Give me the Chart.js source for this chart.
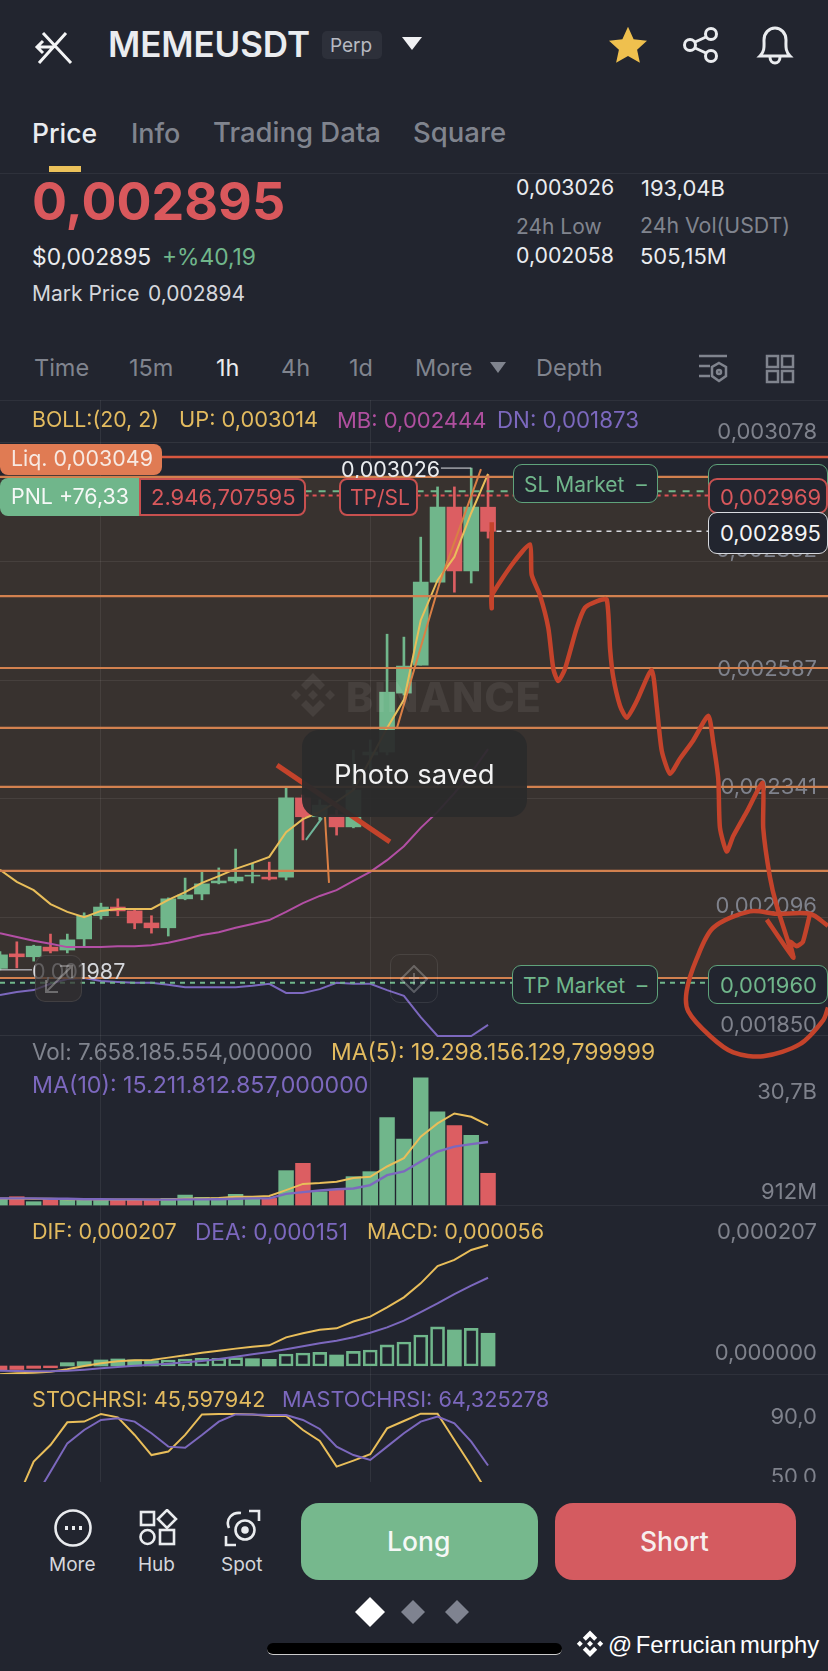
<!DOCTYPE html>
<html><head><meta charset="utf-8">
<script src="https://cdn.jsdelivr.net/npm/chart.js@4"></script>
<style>
html,body{margin:0;padding:0;background:#22252F;width:828px;height:1671px;overflow:hidden;font-family:Inter,"Open Sans",sans-serif;}
.c{position:absolute;left:0;display:block}
.t{position:absolute;white-space:nowrap;transform:translateY(-50%);line-height:1;}
.b{position:absolute;box-sizing:border-box;}
.g{color:#80848E}.w{color:#EAECEF}.y{color:#E3BB5F}.p{color:#7C68BE}.k{color:#B04F9F}.gr{color:#70B68B}.r{color:#D9585C}
.l{position:absolute;left:0;width:828px;height:1px;background:#2E313B}
svg{position:absolute}
</style></head><body>
<div class="l" style="top:173px"></div>
<div class="l" style="top:400px"></div>
<div class="l" style="top:1205px"></div>
<div class="l" style="top:1374px"></div>

<div id="pw" style="position:absolute;left:0;top:400px;width:828px;height:662px"><canvas id="price" class="c" style="top:0"></canvas></div>
<div id="vw" style="position:absolute;left:0;top:1058px;width:828px;height:148px"><canvas id="vol" class="c" style="top:0"></canvas></div>
<div id="mw" style="position:absolute;left:0;top:1206px;width:828px;height:168px"><canvas id="macd" class="c" style="top:0"></canvas></div>
<div id="sw" style="position:absolute;left:0;top:1374px;width:828px;height:108px;overflow:hidden"><canvas id="stoch" class="c" style="top:0"></canvas></div>

<!-- header -->
<svg style="left:34px;top:28px" width="42" height="38" viewBox="0 0 42 38" fill="none" stroke="#F4F5F6" stroke-width="3"><path d="M9 5L37 35M32 5L5 35M3 19H19M9 13L3 19L9 25"/></svg>
<div class="t" style="left:108px;top:44px;font-size:35px;font-weight:600;color:#EAECEF;letter-spacing:-.1px">MEMEUSDT</div>
<div class="b" style="left:322px;top:31px;width:60px;height:28px;background:#2D303A;border-radius:5px"></div>
<div class="t g" style="left:330px;top:45px;font-size:19px;color:#B7BAC2">Perp</div>
<svg style="left:402px;top:37px" width="20" height="14"><path d="M0 0H20L10 13Z" fill="#F0F1F3"/></svg>
<svg style="left:608px;top:26px" width="40" height="38" viewBox="0 0 24 23"><path d="M12 0.5L15.4 8L23.5 8.9L17.5 14.3L19.2 22.3L12 18.2L4.8 22.3L6.5 14.3L0.5 8.9L8.6 8Z" fill="#EFC04E"/></svg>
<svg style="left:682px;top:26px" width="40" height="38" viewBox="0 0 40 38" fill="none" stroke="#EAECEF" stroke-width="3"><circle cx="29" cy="8" r="5.5"/><circle cx="29" cy="30" r="5.5"/><circle cx="8" cy="19" r="5.5"/><path d="M13 16L24 11M13 22L24 27"/></svg>
<svg style="left:756px;top:24px" width="38" height="42" viewBox="0 0 38 42" fill="none" stroke="#EAECEF" stroke-width="3"><path d="M4 32C9 27 8 22 8 16C8 9 13 4 19 4S30 9 30 16C30 22 29 27 34 32Z"/><path d="M14 33C14 41 24 41 24 33"/></svg>

<div class="t w" style="left:32px;top:133px;font-size:26.5px;font-weight:500">Price</div>
<div class="t g" style="left:131px;top:133px;font-size:27px;font-weight:500">Info</div>
<div class="t g" style="left:213px;top:133px;font-size:27.5px;font-weight:500">Trading Data</div>
<div class="t g" style="left:413px;top:133px;font-size:27.5px;font-weight:500">Square</div>
<div class="b" style="left:49px;top:166px;width:32px;height:6px;background:#EBC15A"></div>

<div class="t r" style="left:32px;top:202px;font-size:52px;font-weight:700">0,002895</div>
<div class="t w" style="left:32px;top:257px;font-size:22.8px">$0,002895</div>
<div class="t gr" style="left:162px;top:257px;font-size:22.8px">+%40,19</div>
<div class="t w" style="left:32px;top:293px;font-size:21px;color:#D5D7DC">Mark Price</div>
<div class="t w" style="left:148px;top:293px;font-size:21px;color:#D5D7DC">0,002894</div>
<div class="t w" style="left:516px;top:188px;font-size:21.3px">0,003026</div>
<div class="t w" style="left:641px;top:188px;font-size:22px">193,04B</div>
<div class="t g" style="left:516px;top:226px;font-size:21px">24h Low</div>
<div class="t g" style="left:640px;top:226px;font-size:21.3px">24h Vol(USDT)</div>
<div class="t w" style="left:516px;top:256px;font-size:21.3px">0,002058</div>
<div class="t w" style="left:640px;top:256px;font-size:22px">505,15M</div>

<div class="t g" style="left:34px;top:368px;font-size:23.5px">Time</div>
<div class="t g" style="left:129px;top:368px;font-size:23.5px">15m</div>
<div class="t w" style="left:216px;top:368px;font-size:23.5px">1h</div>
<div class="t g" style="left:281px;top:368px;font-size:23.5px">4h</div>
<div class="t g" style="left:349px;top:368px;font-size:23.5px">1d</div>
<div class="t g" style="left:415px;top:368px;font-size:23.5px">More</div>
<svg style="left:490px;top:362px" width="16" height="12"><path d="M0 0H16L8 11Z" fill="#80848E"/></svg>
<div class="t g" style="left:536px;top:368px;font-size:23.5px">Depth</div>
<svg style="left:698px;top:353px" width="32" height="32" viewBox="0 0 32 32" fill="none" stroke="#80848E" stroke-width="2.5"><path d="M1 3H29M1 13H12M1 23H12"/><path d="M21 10L28 14V23L21 28L14 23V14Z"/><circle cx="21" cy="19" r="2"/></svg>
<svg style="left:765px;top:354px" width="30" height="30" viewBox="0 0 30 30" fill="none" stroke="#80848E" stroke-width="2.5"><rect x="2" y="2" width="11" height="11"/><rect x="17" y="2" width="11" height="11"/><rect x="2" y="17" width="11" height="11"/><rect x="17" y="17" width="11" height="11"/></svg>

<!-- indicator legends -->
<div class="t y" style="left:32px;top:420px;font-size:21.3px">BOLL:(20, 2)</div>
<div class="t y" style="left:179px;top:420px;font-size:21.8px">UP: 0,003014</div>
<div class="t k" style="left:337px;top:420px;font-size:22px">MB: 0,002444</div>
<div class="t p" style="left:497px;top:420px;font-size:22.3px">DN: 0,001873</div>
<div class="t g" style="left:32px;top:1052px;font-size:22.4px">Vol: 7.658.185.554,000000</div>
<div class="t y" style="left:331px;top:1052px;font-size:22.9px">MA(5): 19.298.156.129,799999</div>
<div class="t p" style="left:32px;top:1086px;font-size:23.2px">MA(10): 15.211.812.857,000000</div>
<div class="t y" style="left:32px;top:1232px;font-size:21.6px">DIF: 0,000207</div>
<div class="t p" style="left:195px;top:1232px;font-size:22.6px">DEA: 0,000151</div>
<div class="t y" style="left:367px;top:1232px;font-size:21.6px">MACD: 0,000056</div>
<div class="t y" style="left:32px;top:1400px;font-size:21.7px">STOCHRSI: 45,597942</div>
<div class="t p" style="left:282px;top:1400px;font-size:21.7px">MASTOCHRSI: 64,325278</div>

<!-- watermark -->
<svg style="left:288px;top:672px" width="50" height="50" viewBox="0 0 50 50" fill="rgba(255,255,255,.07)"><path d="M25 1L37 13L32 18L25 11L18 18L13 13ZM8 18L13 23L8 28L3 23ZM42 18L47 23L42 28L37 23ZM25 18L30 23L25 28L20 23ZM13 33L18 28L25 35L32 28L37 33L25 45Z"/></svg>
<div class="t" style="left:346px;top:697px;font-size:41px;font-weight:800;color:rgba(255,255,255,.07);letter-spacing:1px">BINANCE</div>

<!-- order tags -->
<div class="t w" style="left:341px;top:470px;font-size:21.5px">0,003026</div>
<div class="t w" style="left:32px;top:972px;font-size:21.5px;color:#D5D7DC">0,001987</div>
<div class="b" style="left:0;top:444px;width:162px;height:31px;background:#E07B53;border-radius:0 8px 8px 8px"></div>
<div class="t" style="left:11px;top:459px;font-size:21.4px;color:#F7E9E2">Liq. 0,003049</div>
<div class="b" style="left:0;top:478px;width:140px;height:38px;background:#70B68B;border-radius:8px 0 0 8px"></div>
<div class="t" style="left:11px;top:497px;font-size:21.4px;color:#F5F8F6">PNL +76,33</div>
<div class="b" style="left:139px;top:478px;width:167px;height:38px;background:#22252F;border:2px solid #C7504F;border-radius:0 8px 8px 0"></div>
<div class="t r" style="left:151px;top:497px;font-size:22px">2.946,707595</div>
<div class="b" style="left:339px;top:478px;width:79px;height:38px;background:#22252F;border:2px solid #C7504F;border-radius:8px"></div>
<div class="t r" style="left:350px;top:497px;font-size:21px">TP/SL</div>
<div class="b" style="left:513px;top:464px;width:145px;height:39px;background:#22252F;border:1.5px solid #5FA37B;border-radius:9px"></div>
<div class="t gr" style="left:524px;top:484px;font-size:21px">SL Market&nbsp;&nbsp;–</div>
<div class="b" style="left:512px;top:965px;width:146px;height:39px;background:#22252F;border:1.5px solid #5FA37B;border-radius:9px"></div>
<div class="t gr" style="left:523px;top:985px;font-size:21px">TP Market&nbsp;&nbsp;–</div>
<div class="b" style="left:708px;top:464px;width:120px;height:30px;background:#22252F;border:1.5px solid #5FA37B;border-radius:9px"></div>
<div class="b" style="left:708px;top:478px;width:120px;height:36px;background:#22252F;border:2px solid #C7504F;border-radius:9px"></div>
<div class="t r" style="left:720px;top:497px;font-size:22px">0,002969</div>
<div class="b" style="left:708px;top:512px;width:120px;height:42px;background:#22252F;border:1.5px solid #D8DADF;border-radius:9px"></div>
<div class="t" style="left:720px;top:533px;font-size:22px;color:#F4F5F6">0,002895</div>
<div class="b" style="left:708px;top:965px;width:120px;height:39px;background:#22252F;border:1.5px solid #5FA37B;border-radius:9px"></div>
<div class="t gr" style="left:720px;top:985px;font-size:22px">0,001960</div>

<!-- chart buttons -->
<div class="b" style="left:35px;top:955px;width:47px;height:47px;border:1.5px solid rgba(255,255,255,.09);border-radius:10px;background:rgba(52,48,48,.72)"></div>
<svg style="left:43px;top:963px" width="32" height="32" fill="none" stroke="rgba(255,255,255,.3)" stroke-width="2"><path d="M3 29L29 3M17 3H29V15M3 17V29H15"/></svg>
<div class="b" style="left:390px;top:954px;width:48px;height:49px;border:1.5px solid rgba(255,255,255,.09);border-radius:10px"></div>
<svg style="left:400px;top:965px" width="28" height="28" fill="none" stroke="rgba(255,255,255,.25)" stroke-width="2"><path d="M14 1L27 14L14 27L1 14Z"/><path d="M14 8V20M9 13H19"/></svg>

<!-- toast -->
<div class="b" style="left:302px;top:730px;width:225px;height:87px;background:rgba(42,42,44,.94);border-radius:17px"></div>
<div class="t" style="left:334px;top:775px;font-size:27.5px;color:#F2F2F2">Photo saved</div>

<!-- bottom bar -->
<svg style="left:53px;top:1508px" width="40" height="40" fill="none" stroke="#EAECEF" stroke-width="2.6"><circle cx="20" cy="20" r="17.5"/><path d="M12 20h3M19 20h3M26 20h3" stroke-width="4"/></svg>
<svg style="left:138px;top:1509px" width="40" height="38" fill="none" stroke="#EAECEF" stroke-width="2.6"><rect x="3" y="3" width="13" height="13"/><path d="M29 1L38 10L29 19L20 10Z"/><circle cx="9.5" cy="28" r="7"/><rect x="22" y="21" width="14" height="14"/></svg>
<svg style="left:223px;top:1508px" width="40" height="40" fill="none" stroke="#EAECEF" stroke-width="2.6"><path d="M3 28V37H13M26 3H36V13"/><path d="M6 20C2 11 9 4 18 5"/><circle cx="22" cy="22" r="9.5"/><circle cx="22" cy="22" r="2.5" fill="#EAECEF"/></svg>
<div class="t" style="left:49px;top:1564px;font-size:19px;color:#D5D7DC">More</div>
<div class="t" style="left:138px;top:1564px;font-size:19px;color:#D5D7DC">Hub</div>
<div class="t" style="left:221px;top:1564px;font-size:19px;color:#D5D7DC">Spot</div>
<div class="b" style="left:301px;top:1503px;width:237px;height:77px;background:#76B88D;border-radius:18px"></div>
<div class="t" style="left:387px;top:1541px;font-size:26.5px;font-weight:500;color:#F5F8F6">Long</div>
<div class="b" style="left:555px;top:1503px;width:241px;height:77px;background:#D45B60;border-radius:18px"></div>
<div class="t" style="left:640px;top:1541px;font-size:26.5px;font-weight:500;color:#F7EEEE">Short</div>
<svg style="left:355px;top:1597px" width="120" height="30"><path d="M15 0L30 15L15 30L0 15Z" fill="#FFF"/><path d="M58 3L70 15L58 27L46 15Z" fill="#7F8390"/><path d="M102 3L114 15L102 27L90 15Z" fill="#7F8390"/></svg>
<div class="b" style="left:267px;top:1643px;width:295px;height:12px;background:#000;border-bottom:1px solid #CCC;border-radius:7px"></div>
<svg style="left:575px;top:1630px" width="30" height="30" viewBox="0 0 50 50" fill="#FFF"><path d="M25 1L37 13L32 18L25 11L18 18L13 13ZM8 18L13 23L8 28L3 23ZM42 18L47 23L42 28L37 23ZM25 18L30 23L25 28L20 23ZM13 33L18 28L25 35L32 28L37 33L25 45Z"/></svg>
<div class="t" style="left:608px;top:1645px;font-size:23.8px;color:#FFF;font-family:'Liberation Sans',sans-serif;word-spacing:-3px">@ Ferrucian murphy</div>

<script>
// ---- values (prices are in units of 0.000001 USDT) ----
const candleIndex = Array.from({length:30},(_,i)=>i);
const opens  = [1990,2020,2014,2034,2028,2051,2099,2117,2109,2084,2074,2134,2144,2167,2171,2181,2179,2179,2343,2304,2308,2283,2432,2438,2560,2618,2790,2945,2813,2945];
const highs  = [2025,2045,2038,2061,2061,2105,2125,2134,2111,2099,2136,2177,2190,2198,2237,2208,2210,2364,2349,2339,2318,2442,2463,2682,2676,2883,2987,2987,3026,3012];
const lows   = [1987,1991,2005,2022,2022,2036,2092,2099,2072,2063,2057,2132,2132,2165,2167,2167,2173,2173,2256,2297,2266,2281,2401,2432,2556,2618,2790,2769,2788,2881];
const closes = [2018,2014,2036,2026,2049,2099,2117,2109,2084,2074,2134,2142,2165,2171,2179,2183,2175,2343,2304,2328,2283,2359,2438,2562,2616,2790,2945,2813,2945,2895];
const bollUp = [2194,2169,2152,2123,2107,2096,2109,2113,2113,2113,2132,2148,2167,2181,2196,2208,2221,2272,2299,2314,2335,2359,2422,2488,2546,2711,2794,2842,2933,3014];
const bollMb = [2063,2055,2047,2041,2034,2034,2034,2036,2036,2038,2043,2051,2059,2065,2074,2082,2090,2107,2125,2140,2152,2171,2190,2214,2243,2281,2314,2353,2395,2444];
const bollDn = [1935,1941,1945,1958,1968,1970,1964,1962,1960,1960,1956,1951,1951,1951,1951,1954,1958,1939,1939,1947,1960,1958,1958,1945,1933,1889,1850,1850,1850,1873];
const priceTicks = [3078,2832,2587,2341,2096,1850];
const drawnLevels = [3008,2761,2612,2488,2366,2192,1970];
const liqLevel = 3049, slLevel = 2978, entryLevel = 2969, lastLevel = 2895, tpLevel = 1960, highMark = 3026, lowMark = 1987;
const positionZone = [3008,1970];

const sketchX = [29.22,29.22,29.22,30.50,31.49,31.59,32.09,32.58,32.88,33.17,33.57,34.27,34.76,35.45,36.05,36.25,36.44,36.84,37.24,37.83,38.72,39.02,39.32,39.81,40.40,41.19,42.09,42.38,42.68,42.78,43.18,43.57,44.37,45.32,45.35,45.75,46.15,47.14];
const sketchY = [2914,2736,2762,2830,2868,2805,2762,2695,2610,2585,2610,2695,2737,2750,2754,2652,2593,2534,2509,2543,2608,2534,2441,2393,2424,2462,2513,2458,2382,2281,2232,2264,2314,2374,2281,2179,2120,2012];
const arrowX = [45.56,47.14,46.94,47.34,47.71,48.13];
const arrowY = [2091,2012,2045,2036,2045,2103];
const circleX = [49.20,48.13,46.15,44.56,42.38,41.40,40.80,40.90,42.19,43.57,45.35,47.53,48.92,49.20];
const circleY = [2078,2103,2103,2108,2074,2010,1943,1901,1850,1816,1808,1833,1883,1909];
const trendX = [23.59,26.14,28.58], trendY = [2488,2790,3024];
const wickNoteX = [19.31,19.55], wickNoteY = [2304,2167];
const crossX = [16.46,23.17], crossY = [2411,2252];
const arrowNoteX = [18.18,19.13], arrowNoteY = [2256,2301];

const volumes = [1.6,2.0,0.8,1.45,1.37,1.37,1.37,1.2,1.2,1.2,1.6,2.4,1.85,1.77,2.58,1.77,1.6,8.3,10.07,3.2,3.8,6.85,8.05,21.1,15.9,30.7,22.5,19.2,16.8,7.66];
const volMa5  = [1.6,1.6,1.5,1.5,1.4,1.4,1.35,1.3,1.3,1.3,1.35,1.5,1.6,1.7,2.0,2.0,2.2,3.6,5.1,5.3,5.6,6.5,6.8,9.3,11.3,16.5,19.7,22.1,21.3,19.3];
const volMa10 = [1.6,1.6,1.6,1.5,1.5,1.4,1.4,1.35,1.35,1.3,1.3,1.35,1.35,1.4,1.5,1.6,1.6,2.7,3.1,3.5,3.8,4.0,4.8,7.2,8.1,10.5,12.9,14.1,14.7,15.2];

const dif = [-14,-12.5,-11.4,-9.7,-5.7,0,4.6,8,9.7,10.3,14.3,18.2,22.8,26.2,29.7,33,35.4,49,56,62,64.4,76,84.4,100.4,117.5,141.4,171,181.4,198.5,207];
const dea = [-8,-8.6,-9,-9,-8,-6.3,-4,-1.7,0.6,2.3,4,6.3,8.6,12,16,20,24,28.5,33.6,38.8,43.3,49,57,66,77.6,92,107,123,137.4,151];
const macdHist = [-8,-6,-4,-3,5.7,7.4,10.3,12,10.3,9.1,10.3,12,13,13,14.3,12.5,11.4,20.5,22.2,23.4,18.8,25,27.4,36,41,53,67,61.6,64.4,56];
const macdHollow = [0,0,0,0,0,0,0,0,0,0,1,1,1,1,1,0,0,1,1,1,0,1,1,1,1,1,1,0,1,0];

const stochK = [30,41.3,66.9,78,93.1,93.6,98.7,96.4,84.7,71.3,73.6,84.7,98.4,98.7,98.7,98.4,97.3,97.3,88,80.7,63.6,67.6,71.8,89.1,94,98.9,98.9,81.3,64,45.6];
const stochD = [20,25,41.3,60.2,79.1,88,94.7,95.8,93.6,85.8,76.9,76.2,84.7,93.6,98.4,98.4,98,98,94.7,88.7,76.9,71.3,68,76.9,85.8,93.6,96.9,92.4,80.2,64.3];

const xGridAt = [6,22];
const GREEN='#70B68B', RED='#DC5E62', YEL='#E9BE5A', PUR='#7C68BE', PINK='#B34FA5', ORG='#D2814F', HAND='#C4432B', TICK='#7F828C', GRID='rgba(255,255,255,.07)';
const XMIN=0, XMAX=49.2;
const isUp = candleIndex.map(i=>closes[i]>=opens[i]);
const upCol = isUp.map(u=>u?GREEN:RED);
const pts=(xs,ys)=>xs.map((x,i)=>({x,y:ys[i]}));
const series=(ys)=>candleIndex.map(i=>({x:i,y:ys[i]}));
const line=(data,color,w,extra)=>Object.assign({type:'line',data,borderColor:color,borderWidth:w,pointRadius:0,tension:0,fill:false},extra||{});
const level=(v,color,w,from,to,extra)=>line([{x:from,y:v},{x:to,y:v}],color,w,extra);
const xAxis=()=>({type:'linear',min:XMIN,max:XMAX,offset:false,border:{display:false},
  grid:{color:GRID,drawTicks:false,offset:false},ticks:{display:false},afterBuildTicks:s=>{s.ticks=xGridAt.map(value=>({value}));}});
const yAxis=(min,max,ticks,grid)=>({position:'right',min,max,border:{display:false},
  grid:grid?{color:GRID,drawTicks:false}:{display:false,drawTicks:false},
  ticks:{display:false},
  afterBuildTicks:s=>{s.ticks=ticks.map(value=>({value}));}});
const micro=v=>(v/1e6).toFixed(6).replace('.',',');
const base=(scales,axisText)=>({responsive:false,animation:false,events:[],devicePixelRatio:1,
  layout:{padding:0,autoPadding:false},plugins:{legend:{display:false},tooltip:{enabled:false},axisText},scales});
function size(id,h){const c=document.getElementById(id);c.width=828;c.height=h;c.style.width='828px';c.style.height=h+'px';return c;}
// datasets are listed bottom-to-top; Chart.js paints the first listed dataset last
const stacked=list=>list.slice().reverse();

// tick text for each scale tick, placed inside the plot from the scale's own pixel for that tick
Chart.register({id:'axisText',beforeDatasetsDraw(ch,_a,o){
  if(!o.items) return;
  const c=ch.ctx,y=ch.scales.y;c.save();c.font='22px Inter';c.fillStyle=TICK;c.textAlign='right';c.textBaseline='middle';
  o.items.forEach(it=>c.fillText(it.text,817,y.getPixelForValue(it.value)+it.dy));
  c.restore();}});
// brown position zone behind the grid, placed by the price scale
const zonePlugin={id:'zone',beforeDraw(ch){const y=ch.scales.y,a=y.getPixelForValue(positionZone[0]),b=y.getPixelForValue(positionZone[1]);
  const c=ch.ctx;c.save();c.fillStyle='#38322F';c.fillRect(0,a,ch.width,b-a);c.restore();}};

new Chart(size('price',662),{type:'bar',plugins:[zonePlugin],data:{datasets:stacked([
  {type:'bar',grouped:false,barThickness:2,borderWidth:0,data:candleIndex.map(i=>({x:i,y:[lows[i],highs[i]]})),backgroundColor:upCol},
  {type:'bar',grouped:false,barThickness:15,borderWidth:0,data:candleIndex.map(i=>({x:i,y:[Math.min(opens[i],closes[i]),Math.max(opens[i],closes[i])]})),backgroundColor:upCol},
  line(series(bollDn),PUR,2),
  line(series(bollMb),PINK,2),
  line(series(bollUp),YEL,2),
  ...drawnLevels.map(v=>level(v,ORG,2.2,XMIN,XMAX)),
  level(liqLevel,'#D8573F',2.5,XMIN,XMAX),
  level(slLevel,GREEN,2,18.1,XMAX,{borderDash:[7,7]}),
  level(entryLevel,'#DE5156',2,18.1,XMAX,{borderDash:[4,4]}),
  level(tpLevel,GREEN,2,XMIN,XMAX,{borderDash:[5,5]}),
  level(lastLevel,'#D8DADF',1.5,29.5,42.2,{borderDash:[5,5]}),
  level(highMark,'#BFC1C7',1.2,26.2,28,{}),
  level(lowMark,'#BFC1C7',1.2,0,1.9,{}),
  line(pts(trendX,trendY),'#D97F45',2),
  line(pts(wickNoteX,wickNoteY),'#D97F45',2),
  line(pts(arrowNoteX,arrowNoteY),'#6FB59A',2),
  line(pts(crossX,crossY),HAND,5),
  line(pts(sketchX,sketchY),HAND,4.5,{tension:.2}),
  line(pts(arrowX,arrowY),HAND,4.5,{tension:.15}),
  line(pts(circleX,circleY),HAND,4.5,{tension:.3})
])},options:base({x:xAxis(),y:yAxis(1796.1,3167,priceTicks,true)},{items:priceTicks.map(v=>({value:v,text:micro(v),dy:-11}))})});

new Chart(size('vol',148),{type:'bar',data:{datasets:stacked([
  {grouped:false,barThickness:14.8,borderWidth:0,data:series(volumes),backgroundColor:upCol},
  line(series(volMa5),YEL,2),
  line(series(volMa10),PUR,2.4)
])},options:base({x:xAxis(),y:yAxis(-0.24,35.5,[30.7,0.912],false)},
  {items:[{value:30.7,text:'30,7B',dy:15},{value:0.912,text:'912M',dy:-9}]})});

new Chart(size('macd',168),{type:'bar',data:{datasets:stacked([
  {grouped:false,barThickness:14,borderWidth:candleIndex.map(i=>macdHollow[i]?2:0),data:series(macdHist),
   backgroundColor:candleIndex.map(i=>macdHollow[i]?'rgba(0,0,0,0)':(macdHist[i]<0?RED:GREEN)),
   borderColor:candleIndex.map(i=>macdHist[i]<0?RED:GREEN),borderSkipped:false},
  line(series(dif),YEL,2),
  line(series(dea),PUR,2)
])},options:base({x:xAxis(),y:yAxis(-13.7,273.7,[207,0],false)},
  {items:[207,0].map(v=>({value:v,text:micro(v),dy:-13}))})});

new Chart(size('stoch',126),{type:'line',data:{datasets:stacked([
  line(series(stochK),YEL,2),
  line(series(stochD),PUR,2)
])},options:base({x:xAxis(),y:yAxis(41.33,125.33,[90,50],false)},
  {items:[90,50].map(v=>({value:v,text:v.toFixed(1).replace('.',','),dy:-10}))})});
</script>
</body></html>
